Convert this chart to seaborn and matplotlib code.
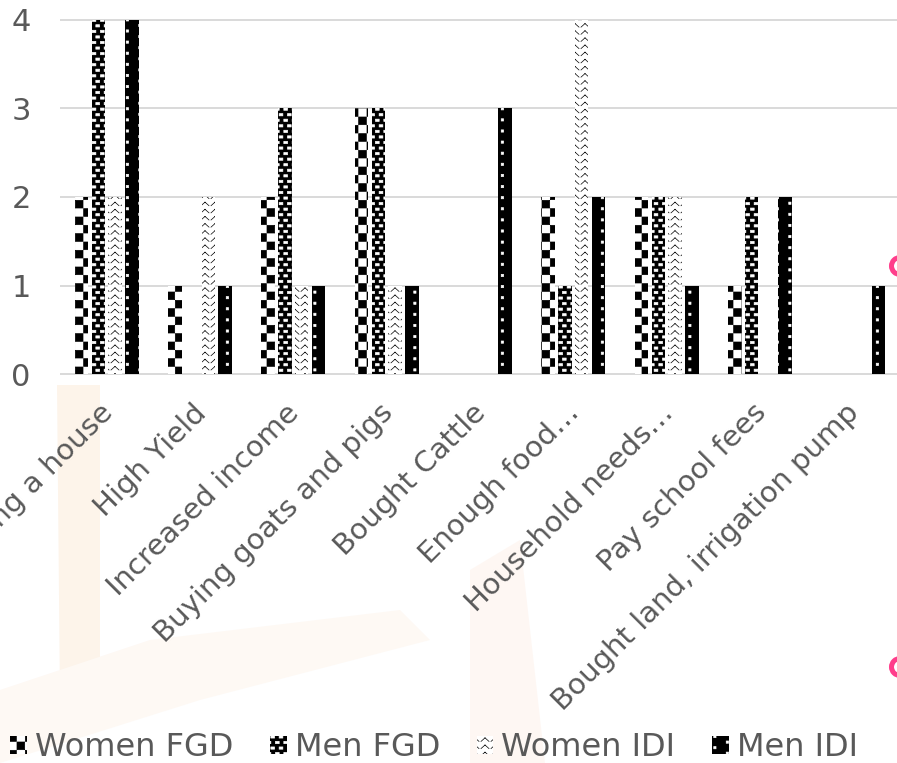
import warnings
warnings.filterwarnings("ignore")

import numpy as np
import pandas as pd
import matplotlib
matplotlib.use("Agg")
import matplotlib.pyplot as plt
import matplotlib.hatch as mhatch
import matplotlib.transforms as mtransforms
from matplotlib.path import Path
from matplotlib.patches import Patch, Circle, Polygon
import seaborn as sns

# ---- data -------------------------------------------------------------
categories = ["Building a house", "High Yield", "Increased income",
              "Buying goats and pigs", "Bought Cattle", "Enough food\u2026",
              "Household needs\u2026", "Pay school fees",
              "Bought land, irrigation pump"]
series_names = ["Women FGD", "Men FGD", "Women IDI", "Men IDI"]
women_fgd = [2, 1, 2, 3, 0, 2, 2, 1, 0]
men_fgd = [4, 0, 3, 3, 0, 1, 2, 2, 0]
women_idi = [2, 2, 1, 1, 0, 4, 2, 0, 0]
men_idi = [4, 1, 1, 1, 3, 2, 1, 2, 1]
y_ticks = [0, 1, 2, 3, 4]


# ---- custom fill patterns (checkerboard, bricks, dots, zigzag) ---------
class _TilePattern(mhatch.HatchPatternBase):
    char = "?"
    ncols = 1
    nrows = 1
    rects_even = ()
    rects_odd = ()

    def __init__(self, hatch, density):
        self.on = self.char in (hatch or "")
        n = self.ncols * (self.nrows // 2) * (len(self.rects_even) + len(self.rects_odd))
        self.num_vertices = n * 5 if self.on else 0

    def set_vertices_and_codes(self, vertices, codes):
        cw, ch = 1.0 / self.ncols, 1.0 / self.nrows
        k = 0
        for r in range(self.nrows):
            rects = self.rects_even if r % 2 == 0 else self.rects_odd
            for c in range(self.ncols):
                for (x0, y0, x1, y1) in rects:
                    X0, X1 = (c + x0) * cw, (c + x1) * cw
                    Y0, Y1 = (r + y0) * ch, (r + y1) * ch
                    vertices[k:k + 5] = [(X0, Y0), (X1, Y0), (X1, Y1), (X0, Y1), (X0, Y0)]
                    codes[k:k + 5] = [Path.MOVETO, Path.LINETO, Path.LINETO,
                                      Path.LINETO, Path.CLOSEPOLY]
                    k += 5


class CheckerPattern(_TilePattern):
    char = "k"
    ncols, nrows = 6, 12
    rects_even = [(0.02, 0.04, 0.48, 0.96)]
    rects_odd = [(0.52, 0.04, 0.98, 0.96)]


class BrickPattern(_TilePattern):
    char = "b"
    ncols, nrows = 12, 18
    rects_even = [(0.06, 0.15, 0.50, 0.55)]
    rects_odd = [(0.50, 0.15, 0.94, 0.55)]


class DotPattern(_TilePattern):
    char = "d"
    ncols, nrows = 4, 18
    rects_even = [(0.05, 0.22, 0.14, 0.62)]
    rects_odd = [(0.55, 0.22, 0.64, 0.62)]


class ZigzagPattern(mhatch.HatchPatternBase):
    char = "z"
    nper, nrows = 10, 14

    def __init__(self, hatch, density):
        self.on = self.char in (hatch or "")
        self.num_vertices = self.nper * self.nrows * 4 if self.on else 0

    def set_vertices_and_codes(self, vertices, codes):
        pw, rh = 1.0 / self.nper, 1.0 / self.nrows
        k = 0
        for r in range(self.nrows):
            y = (r + 0.2) * rh
            for c in range(self.nper):
                x = c * pw
                pts = [(x + 0.1 * pw, y), (x + 0.5 * pw, y + 0.5 * rh),
                       (x + 0.5 * pw, y + 0.5 * rh), (x + 0.9 * pw, y)]
                vertices[k:k + 4] = pts
                codes[k:k + 4] = [Path.MOVETO, Path.LINETO, Path.MOVETO, Path.LINETO]
                k += 4


for cls in (CheckerPattern, BrickPattern, DotPattern, ZigzagPattern):
    mhatch._hatch_types.append(cls)

# face colour, pattern colour, pattern code per series
styles = {
    "Women FGD": ("white", "black", "k"),
    "Men FGD": ("black", "white", "b"),
    "Women IDI": ("white", "black", "z"),
    "Men IDI": ("black", "white", "d"),
}

# ---- figure -----------------------------------------------------------
sns.set_theme(style="white")
plt.rcParams["font.family"] = ["DejaVu Sans"]
plt.rcParams["hatch.linewidth"] = 0.5

W, H = 897, 763
fig = plt.figure(figsize=(W / 100, H / 100), dpi=100)
fig.patch.set_facecolor("white")

# faint background emblem
px = fig.dpi_scale_trans
def _pxpoly(pts, color):
    poly = Polygon([(x / 100, (H - y) / 100) for x, y in pts], closed=True,
                   transform=px, facecolor=color, edgecolor="none", zorder=-5)
    fig.add_artist(poly)

_pxpoly([(57, 385), (100, 385), (100, 690), (60, 700)], "#fdf4ea")
_pxpoly([(0, 690), (150, 640), (400, 610), (430, 640), (200, 700), (0, 763)], "#fef9f4")
_pxpoly([(470, 570), (520, 540), (545, 763), (470, 763)], "#fef7f3")

y0_px, y4_px = 374, 20
unit = (y0_px - y4_px) / 4
pad_u = 0.012
ax_bottom = (H - (y0_px + pad_u * unit)) / H
ax_height = (4 + 2 * pad_u) * unit / H
ax = fig.add_axes([60 / W, ax_bottom, 840 / W, ax_height])
ax.patch.set_alpha(0)

rows = []
for name, vals in zip(series_names, [women_fgd, men_fgd, women_idi, men_idi]):
    for cat, v in zip(categories, vals):
        rows.append({"category": cat, "series": name, "value": v})
df = pd.DataFrame(rows)

sns.barplot(data=df, x="category", y="value", hue="series", order=categories,
            hue_order=series_names, width=0.72, gap=0.2, errorbar=None,
            saturation=1, legend=False, ax=ax)

for container, name in zip(ax.containers, series_names):
    fc, hc, h = styles[name]
    for bar in container:
        bar.set_facecolor(fc)
        bar.set_edgecolor(hc)
        if hasattr(bar, "set_hatchcolor"):
            bar.set_hatchcolor(hc)
        bar.set_linewidth(0)
        bar.set_hatch(h)

ax.set_xlim(-0.5, len(categories) - 0.5)
ax.set_ylim(-pad_u, 4 + pad_u)
ax.set_yticks(y_ticks)
ax.set_xlabel("")
ax.set_ylabel("")
for s in ax.spines.values():
    s.set_visible(False)
ax.set_axisbelow(True)
ax.yaxis.grid(True, color="#d9d9d9", linewidth=1.4)
ax.xaxis.grid(False)

grey = "#595959"
ax.tick_params(axis="y", length=0, pad=21, labelsize=22, labelcolor=grey)
ax.tick_params(axis="x", length=0, pad=17, labelsize=21, labelcolor=grey)
shift = mtransforms.ScaledTranslation(-8 / 100, 0, fig.dpi_scale_trans)
for lab in ax.get_xticklabels():
    lab.set_rotation(45)
    lab.set_ha("right")
    lab.set_va("top")
    lab.set_rotation_mode("anchor")
    lab.set_transform(lab.get_transform() + shift)

# legend
handles = []
for name in series_names:
    fc, hc, h = styles[name]
    p = Patch(facecolor=fc, edgecolor=hc, hatch=h, linewidth=0, label=name)
    if hasattr(p, "set_hatchcolor"):
        p.set_hatchcolor(hc)
    handles.append(p)
fig.legend(handles=handles, loc="center", bbox_to_anchor=(434 / W, 1 - 748 / H),
           ncol=4, frameon=False, fontsize=23, labelcolor=grey,
           handlelength=0.52, handleheight=0.52, handletextpad=0.25,
           columnspacing=1.15, borderaxespad=0)

# decorative rings at the right edge
for cy in (266, 667):
    fig.add_artist(Circle((900 / 100, (H - cy) / 100), 0.085, transform=px,
                          fill=False, edgecolor="#ff3d8b", linewidth=3.6, zorder=5))

fig.savefig("out.png", dpi=100, facecolor="white")
